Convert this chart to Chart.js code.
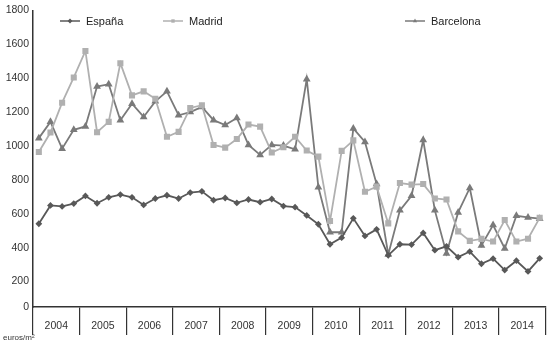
<!DOCTYPE html>
<html>
<head>
<meta charset="utf-8">
<script src="https://cdn.jsdelivr.net/npm/chart.js@4/dist/chart.umd.min.js"></script>
<style>
  html, body { margin: 0; padding: 0; background: #fff; }
  #wrap { width: 550px; height: 343px; }
</style>
</head>
<body>
<div id="wrap"><canvas id="preciosChart" width="550" height="343"></canvas></div>
<script>
// precio medio por trimestre, euros/m2
const years = ['2004', '2005', '2006', '2007', '2008', '2009', '2010', '2011', '2012', '2013', '2014'];
const quarters = years.flatMap(y => ['T1', 'T2', 'T3', 'T4'].map(q => y + ' ' + q));

const espana = [541, 649, 643, 660, 705, 662, 697, 713, 697, 652, 690, 709, 690, 725, 732, 680,
  693, 664, 684, 668, 687, 645, 639, 590, 538, 420, 459, 573, 469, 508, 355, 420,
  418, 487, 385, 408, 344, 377, 305, 335, 268, 323, 260, 337];
const madrid = [964, 1079, 1255, 1404, 1560, 1081, 1142, 1488, 1298, 1322, 1278, 1054, 1083, 1224, 1240, 1006,
  990, 1041, 1126, 1114, 961, 992, 1054, 973, 937, 557, 971, 1033, 730, 760, 543, 781,
  772, 775, 690, 684, 496, 440, 452, 436, 563, 436, 453, 576];
const barcelona = [1046, 1142, 984, 1095, 1115, 1350, 1364, 1152, 1249, 1171, 1263, 1322, 1181, 1200, 1230, 1152,
  1123, 1165, 1006, 947, 1006, 1002, 980, 1394, 757, 491, 491, 1103, 1023, 775, 360, 620,
  706, 1035, 620, 366, 608, 752, 413, 533, 395, 588, 578, 571];

// en el original el eje horizontal corta a la altura de ~50 y lleva la etiqueta "0"
const yTickValues = [50, 200, 400, 600, 800, 1000, 1200, 1400, 1600, 1800];
const yTickLabels = ['0', '200', '400', '600', '800', '1000', '1200', '1400', '1600', '1800'];

const FONT = 'Liberation Sans, Arial, sans-serif';

// leyenda a mano, con las posiciones del original
const legendPos = [60, 163, 405];
const manualLegend = {
  id: 'manualLegend',
  afterDraw(chart) {
    const ctx = chart.ctx;
    ctx.save();
    chart.data.datasets.forEach((ds, i) => {
      const x = legendPos[i], y = 21;
      ctx.strokeStyle = ds.borderColor;
      ctx.lineWidth = 1.5;
      ctx.beginPath();
      ctx.moveTo(x, y);
      ctx.lineTo(x + 20, y);
      ctx.stroke();
      ctx.fillStyle = ds.borderColor;
      Chart.helpers.drawPoint(ctx, { pointStyle: ds.pointStyle, radius: 2.4, borderWidth: 0 }, x + 10, y);
      ctx.fillStyle = '#222';
      ctx.font = '11px ' + FONT;
      ctx.textBaseline = 'middle';
      ctx.fillText(ds.label, x + 26, y + 1);
    });
    ctx.font = '8px ' + FONT;
    ctx.fillStyle = '#333';
    ctx.textBaseline = 'middle';
    ctx.fillText('euros/m²', 3, 338);
    ctx.restore();
  }
};

function serie(label, data, color, style, radius) {
  return {
    label: label,
    data: data,
    borderColor: color,
    backgroundColor: color,
    pointBackgroundColor: color,
    pointBorderColor: color,
    pointStyle: style,
    pointRadius: radius,
    pointBorderWidth: 0,
    borderWidth: 1.8,
    tension: 0,
    xAxisID: 'x',
    yAxisID: 'y'
  };
}

new Chart(document.getElementById('preciosChart'), {
  type: 'line',
  data: {
    labels: quarters,
    datasets: [
      serie('España', espana, '#585858', 'rectRot', 3.4),
      serie('Madrid', madrid, '#b0b0b0', 'rect', 4.3),
      serie('Barcelona', barcelona, '#7a7a7a', 'triangle', 4.5)
    ]
  },
  options: {
    responsive: false,
    animation: false,
    layout: { padding: { top: 7, right: 4, bottom: 0, left: 0 } },
    plugins: { legend: { display: false }, tooltip: { enabled: false } },
    scales: {
      x: { type: 'category', display: false, offset: true },
      x2: {
        type: 'category',
        labels: years,
        position: 'bottom',
        offset: true,
        grid: { display: true, offset: true, drawOnChartArea: false, drawTicks: true, tickLength: 28, color: '#333', lineWidth: 1.2 },
        border: { display: true, color: '#333', width: 1.5 },
        ticks: { color: '#333', font: { family: FONT, size: 10.5 }, padding: -15, maxRotation: 0, autoSkip: false },
        afterFit(scale) { scale.height = 36; }
      },
      y: {
        type: 'linear',
        min: 50,
        max: 1800,
        afterBuildTicks(scale) { scale.ticks = yTickValues.map(v => ({ value: v })); },
        grid: { display: false, drawTicks: false },
        border: { display: true, color: '#333', width: 1.5 },
        ticks: {
          color: '#333',
          font: { family: FONT, size: 10.5 },
          padding: 4,
          callback: (v, i) => yTickLabels[i]
        },
        afterFit(scale) { scale.width = 33; }
      }
    }
  },
  plugins: [manualLegend]
});
</script>
</body>
</html>
